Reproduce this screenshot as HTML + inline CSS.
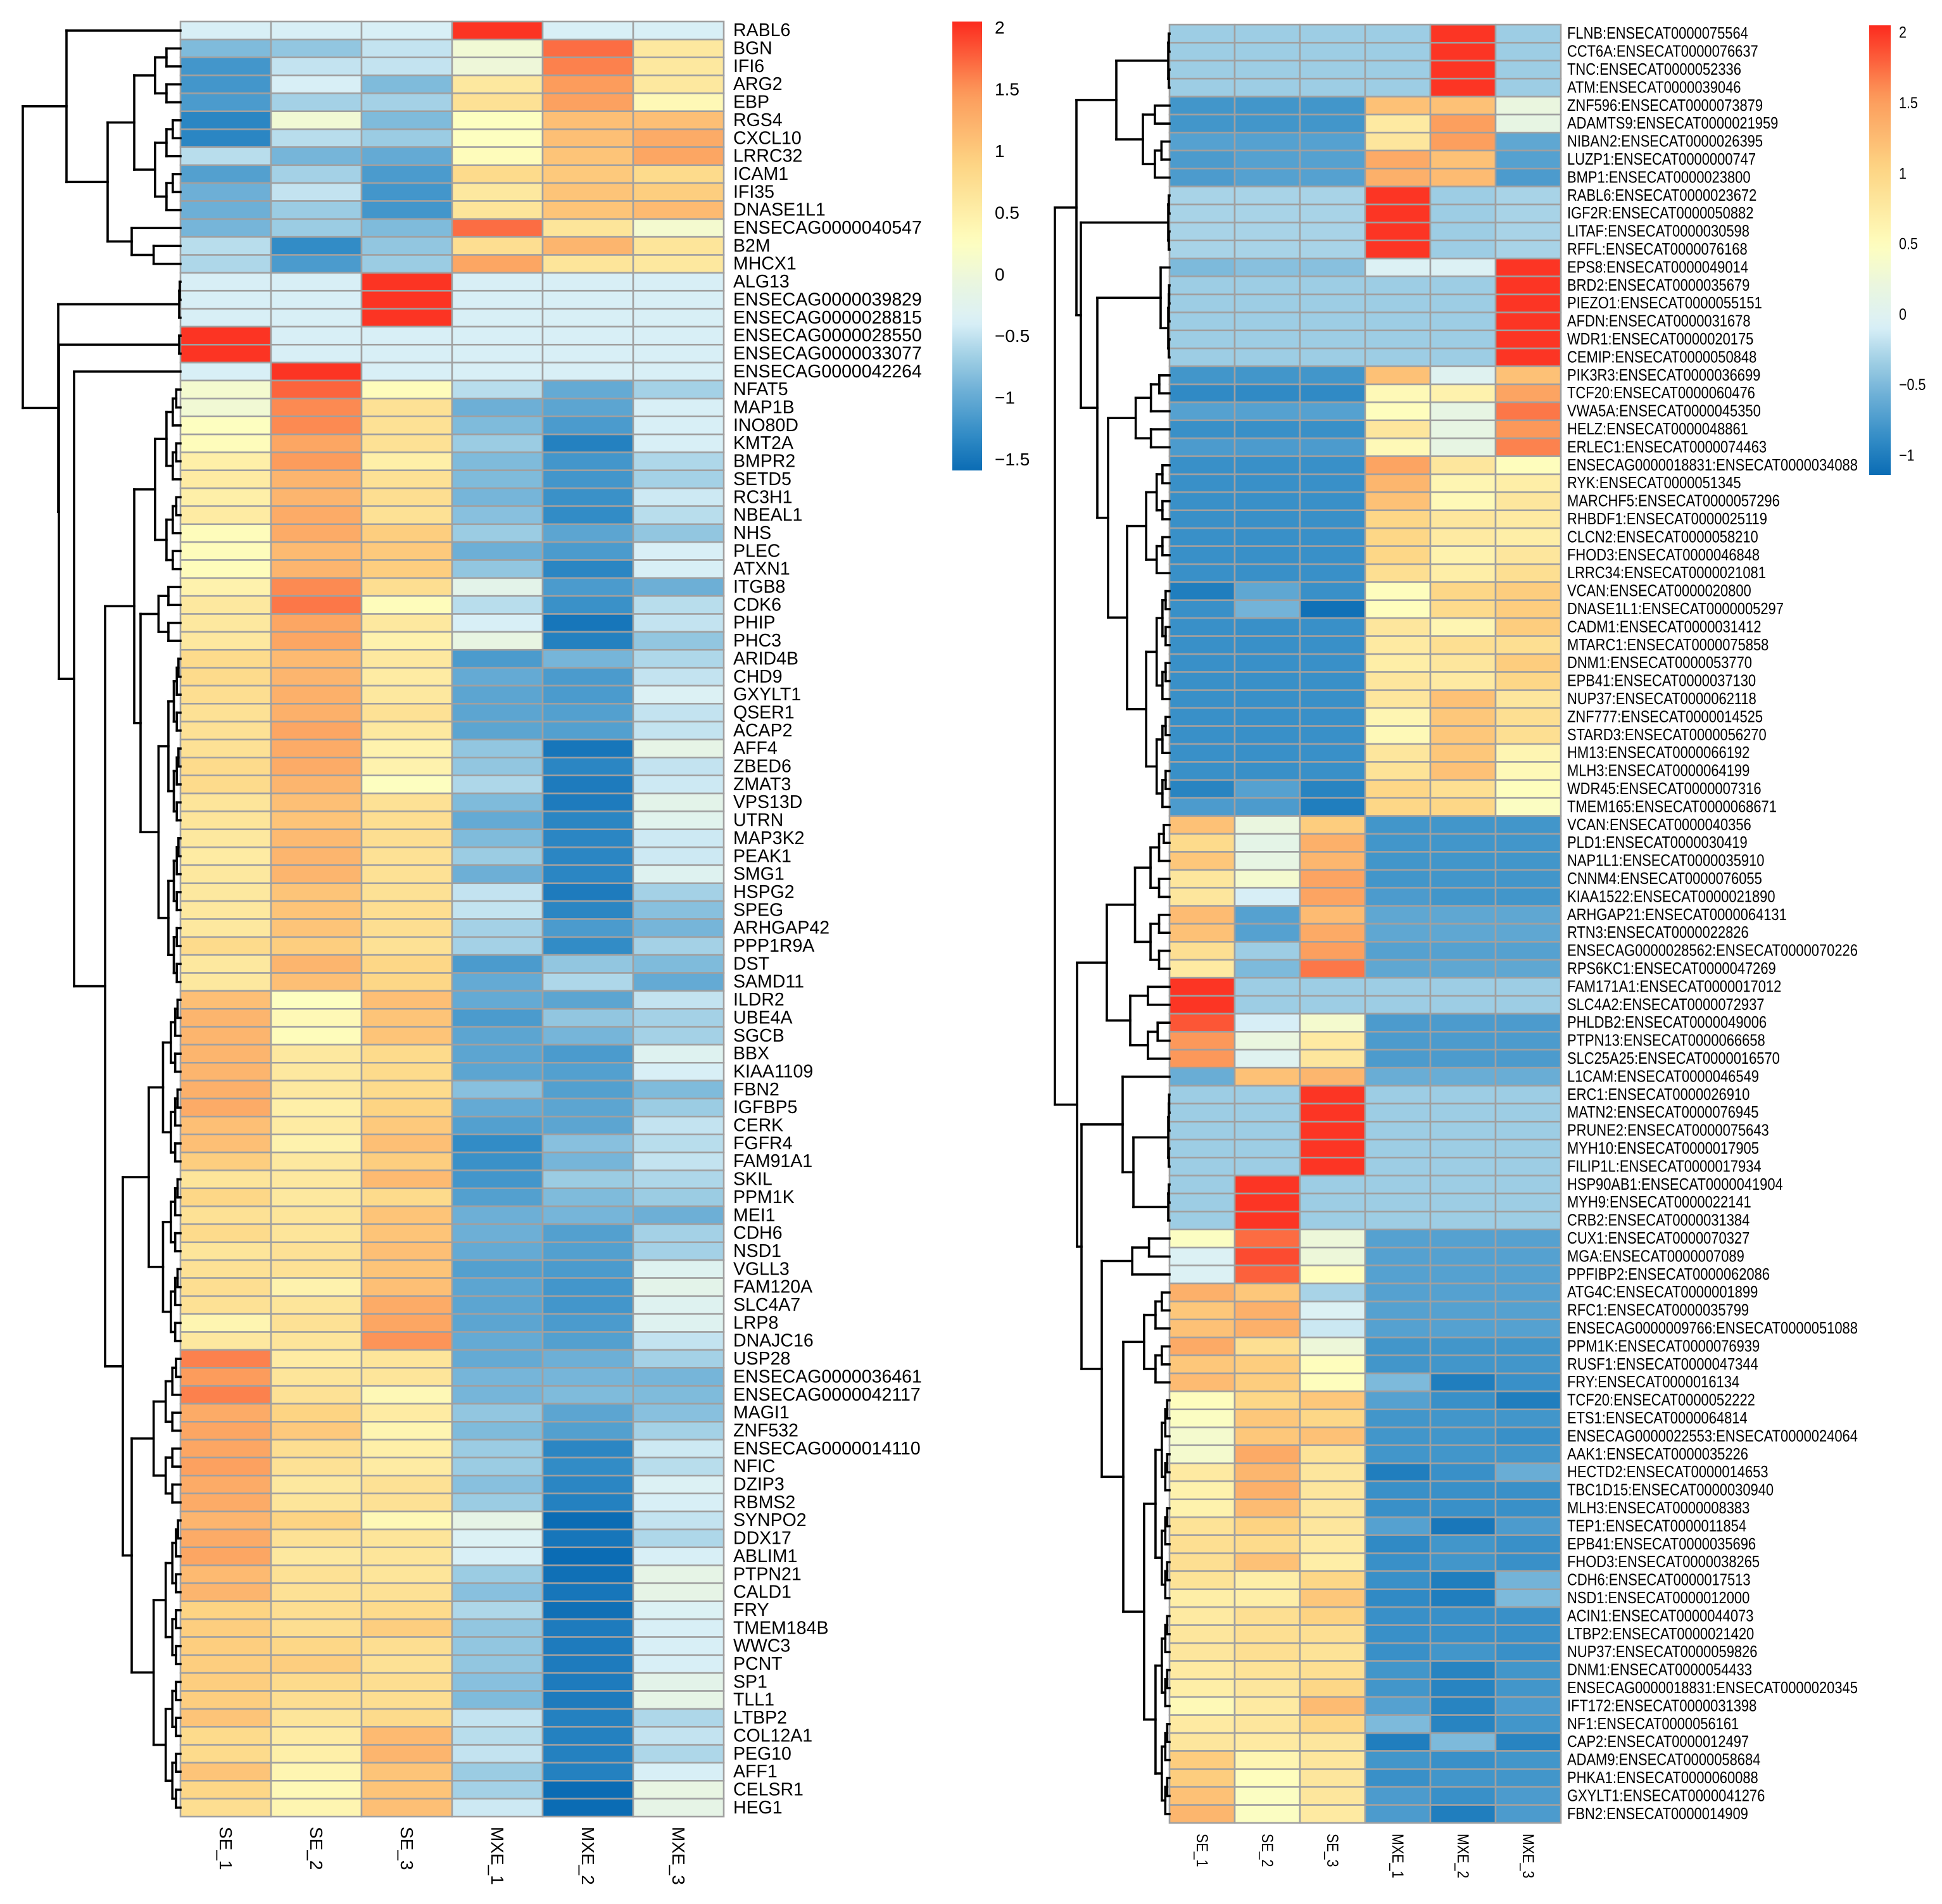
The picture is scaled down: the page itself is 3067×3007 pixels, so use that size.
<!DOCTYPE html>
<html><head><meta charset="utf-8"><style>
html,body{margin:0;padding:0;background:#fff;}
svg{display:block;}
text{font-family:"Liberation Sans",Arial,sans-serif;fill:#000;}
</style></head><body>
<svg id="chart" width="3067" height="3007" viewBox="0 0 3067 3007" xmlns="http://www.w3.org/2000/svg"></svg>
<script>
const colLabels = ["SE_1","SE_2","SE_3","MXE_1","MXE_2","MXE_3"];
const leftTicks = [2,1.5,1,0.5,0,-0.5,-1,-1.5];
const rightTicks = [2,1.5,1,0.5,0,-0.5,-1];
const leftLabels = ["RABL6","BGN","IFI6","ARG2","EBP","RGS4","CXCL10","LRRC32","ICAM1","IFI35","DNASE1L1","ENSECAG0000040547","B2M","MHCX1","ALG13","ENSECAG0000039829","ENSECAG0000028815","ENSECAG0000028550","ENSECAG0000033077","ENSECAG0000042264","NFAT5","MAP1B","INO80D","KMT2A","BMPR2","SETD5","RC3H1","NBEAL1","NHS","PLEC","ATXN1","ITGB8","CDK6","PHIP","PHC3","ARID4B","CHD9","GXYLT1","QSER1","ACAP2","AFF4","ZBED6","ZMAT3","VPS13D","UTRN","MAP3K2","PEAK1","SMG1","HSPG2","SPEG","ARHGAP42","PPP1R9A","DST","SAMD11","ILDR2","UBE4A","SGCB","BBX","KIAA1109","FBN2","IGFBP5","CERK","FGFR4","FAM91A1","SKIL","PPM1K","MEI1","CDH6","NSD1","VGLL3","FAM120A","SLC4A7","LRP8","DNAJC16","USP28","ENSECAG0000036461","ENSECAG0000042117","MAGI1","ZNF532","ENSECAG0000014110","NFIC","DZIP3","RBMS2","SYNPO2","DDX17","ABLIM1","PTPN21","CALD1","FRY","TMEM184B","WWC3","PCNT","SP1","TLL1","LTBP2","COL12A1","PEG10","AFF1","CELSR1","HEG1"];
const leftValues = [
[-0.4,-0.4,-0.4,2,-0.4,-0.4],[-0.85,-0.75,-0.5,0.05,1.7,0.6],[-1.2,-0.5,-0.5,0,1.6,0.6],[-1.2,-0.4,-0.85,0.6,1.45,0.6],[-1.15,-0.65,-0.65,0.7,1.4,0.35],
[-1.35,0.05,-0.85,0.25,1.1,1.1],[-1.35,-0.55,-0.7,0.25,1.1,1.3],[-0.55,-0.9,-1,0.3,1.05,1.35],[-1.1,-0.65,-1.15,0.8,1,0.8],[-0.95,-0.5,-1.2,0.6,1.05,0.95],
[-0.95,-0.7,-1.2,0.65,1.05,1.15],[-0.9,-0.7,-0.85,1.7,0.65,0.1],[-0.55,-1.3,-0.75,0.75,1.2,0.65],[-0.6,-1.15,-0.7,1.35,0.65,0.6],[-0.4,-0.4,2,-0.4,-0.4,-0.4],
[-0.4,-0.4,2,-0.4,-0.4,-0.4],[-0.4,-0.4,2,-0.4,-0.4,-0.4],[2,-0.4,-0.4,-0.4,-0.4,-0.4],[2,-0.4,-0.4,-0.4,-0.4,-0.4],[-0.4,2,-0.4,-0.4,-0.4,-0.4],
[0.1,1.75,0.3,-0.55,-1,-0.65],[0.05,1.55,0.7,-0.95,-1.05,-0.4],[0.25,1.55,0.7,-0.85,-1.15,-0.4],[0.3,1.35,0.7,-0.7,-1.4,-0.4],[0.5,1.45,0.5,-0.85,-1.2,-0.6],
[0.55,1.2,0.7,-0.85,-1.2,-0.65],[0.5,1.2,0.75,-0.9,-1.25,-0.45],[0.55,1.3,0.7,-0.8,-1.3,-0.55],[0.3,1.3,0.95,-0.7,-1.05,-0.75],[0.3,1.15,1,-0.95,-1.15,-0.4],
[0.3,1.2,0.95,-0.75,-1.35,-0.4],[0.45,1.55,0.75,-0.2,-1.15,-0.95],[0.6,1.65,0.3,-0.55,-1.25,-0.55],[0.6,1.35,0.6,-0.4,-1.5,-0.5],[0.6,1.35,0.45,-0.1,-1.4,-0.75],
[0.8,1.15,0.6,-1.15,-0.9,-0.6],[0.8,1.2,0.55,-1,-1.15,-0.5],[0.75,1.25,0.6,-1.05,-1.15,-0.35],[0.7,1.25,0.7,-1.05,-1.1,-0.5],[0.7,1.35,0.6,-1.05,-1.1,-0.5],
[0.7,1.3,0.45,-0.75,-1.5,-0.15],[0.8,1.3,0.45,-0.75,-1.35,-0.5],[0.8,1.2,0.25,-0.6,-1.45,-0.45],[0.65,1.1,0.7,-0.85,-1.45,-0.2],[0.65,1.05,0.75,-1,-1.35,-0.25],
[0.6,1.15,0.75,-0.85,-1.35,-0.45],[0.55,1.2,0.7,-0.7,-1.35,-0.45],[0.6,1.2,0.7,-0.95,-1.35,-0.3],[0.6,1.05,0.7,-0.5,-1.45,-0.65],[0.6,1.05,0.75,-0.5,-1.35,-0.8],
[0.6,1.05,0.75,-0.65,-1.15,-0.9],[0.8,0.95,0.7,-0.65,-1.3,-0.65],[0.6,1.2,0.85,-1.15,-0.75,-0.85],[0.6,1.1,0.85,-1,-0.6,-1],[1.1,0.25,1.1,-1,-1.05,-0.5],
[1.2,0.35,1.05,-1.15,-0.75,-0.65],[1.2,0.3,1.05,-1.05,-0.9,-0.65],[1.2,0.6,0.8,-1.05,-1.15,-0.3],[1.2,0.6,0.8,-1.05,-1.1,-0.4],[1.25,0.6,0.8,-0.8,-1.1,-0.85],
[1.3,0.5,0.9,-1,-1.05,-0.7],[1.1,0.55,1,-1.1,-1.05,-0.5],[1.1,0.45,1.1,-1.3,-0.8,-0.55],[0.95,0.6,0.95,-1.25,-0.9,-0.5],[0.65,0.6,1.15,-1.2,-0.7,-0.6],
[0.85,0.6,0.8,-1.1,-0.85,-0.7],[0.7,0.65,1.05,-0.95,-0.9,-0.95],[0.8,0.65,1.05,-0.95,-1.1,-0.65],[0.65,0.7,1.1,-1,-1.1,-0.65],[0.7,0.7,1.05,-1.1,-1.15,-0.3],
[0.75,0.45,1.1,-1.05,-1.2,-0.2],[0.7,0.65,1.3,-1.05,-1.2,-0.3],[0.4,0.7,1.35,-1.05,-1.15,-0.3],[0.6,0.65,1.5,-1,-1.1,-0.5],[1.6,0.55,0.65,-1,-0.95,-0.65],
[1.45,0.65,0.65,-0.9,-0.9,-0.9],[1.6,0.7,0.35,-0.9,-0.85,-0.85],[1.3,0.9,0.55,-0.75,-1.05,-0.8],[1.35,1,0.4,-0.85,-1.1,-0.65],[1.35,0.75,0.5,-0.7,-1.35,-0.45],
[1.4,0.7,0.55,-0.7,-1.3,-0.55],[1.3,0.6,0.7,-0.8,-1.35,-0.35],[1.3,0.65,0.7,-0.7,-1.4,-0.4],[1.2,0.9,0.35,-0.15,-1.65,-0.5],[1.3,0.7,0.65,-0.35,-1.5,-0.6],
[1.35,0.6,0.65,-0.4,-1.65,-0.4],[1.15,0.7,0.65,-0.7,-1.55,-0.15],[1.2,0.7,0.7,-0.8,-1.5,-0.15],[0.9,0.75,0.8,-0.6,-1.55,-0.35],[0.95,0.75,0.95,-0.75,-1.45,-0.4],
[0.95,0.85,0.75,-0.75,-1.45,-0.4],[0.95,0.95,0.7,-0.75,-1.45,-0.4],[0.95,0.8,0.75,-0.8,-1.45,-0.2],[0.95,0.75,0.75,-0.85,-1.45,-0.15],[1.05,0.65,0.8,-0.5,-1.4,-0.6],
[0.8,0.55,1.15,-0.55,-1.4,-0.5],[0.8,0.5,1.2,-0.5,-1.4,-0.6],[1.05,0.4,1.05,-0.7,-1.4,-0.4],[0.85,0.35,1.05,-0.65,-1.6,-0.1],[0.75,0.4,1.1,-0.45,-1.6,-0.15]];
const rightLabels = ["FLNB:ENSECAT0000075564","CCT6A:ENSECAT0000076637","TNC:ENSECAT0000052336","ATM:ENSECAT0000039046","ZNF596:ENSECAT0000073879","ADAMTS9:ENSECAT0000021959","NIBAN2:ENSECAT0000026395","LUZP1:ENSECAT0000000747","BMP1:ENSECAT0000023800","RABL6:ENSECAT0000023672","IGF2R:ENSECAT0000050882","LITAF:ENSECAT0000030598","RFFL:ENSECAT0000076168","EPS8:ENSECAT0000049014","BRD2:ENSECAT0000035679","PIEZO1:ENSECAT0000055151","AFDN:ENSECAT0000031678","WDR1:ENSECAT0000020175","CEMIP:ENSECAT0000050848","PIK3R3:ENSECAT0000036699","TCF20:ENSECAT0000060476","VWA5A:ENSECAT0000045350","HELZ:ENSECAT0000048861","ERLEC1:ENSECAT0000074463","ENSECAG0000018831:ENSECAT0000034088","RYK:ENSECAT0000051345","MARCHF5:ENSECAT0000057296","RHBDF1:ENSECAT0000025119","CLCN2:ENSECAT0000058210","FHOD3:ENSECAT0000046848","LRRC34:ENSECAT0000021081","VCAN:ENSECAT0000020800","DNASE1L1:ENSECAT0000005297","CADM1:ENSECAT0000031412","MTARC1:ENSECAT0000075858","DNM1:ENSECAT0000053770","EPB41:ENSECAT0000037130","NUP37:ENSECAT0000062118","ZNF777:ENSECAT0000014525","STARD3:ENSECAT0000056270","HM13:ENSECAT0000066192","MLH3:ENSECAT0000064199","WDR45:ENSECAT0000007316","TMEM165:ENSECAT0000068671","VCAN:ENSECAT0000040356","PLD1:ENSECAT0000030419","NAP1L1:ENSECAT0000035910","CNNM4:ENSECAT0000076055","KIAA1522:ENSECAT0000021890","ARHGAP21:ENSECAT0000064131","RTN3:ENSECAT0000022826","ENSECAG0000028562:ENSECAT0000070226","RPS6KC1:ENSECAT0000047269","FAM171A1:ENSECAT0000017012","SLC4A2:ENSECAT0000072937","PHLDB2:ENSECAT0000049006","PTPN13:ENSECAT0000066658","SLC25A25:ENSECAT0000016570","L1CAM:ENSECAT0000046549","ERC1:ENSECAT0000026910","MATN2:ENSECAT0000076945","PRUNE2:ENSECAT0000075643","MYH10:ENSECAT0000017905","FILIP1L:ENSECAT0000017934","HSP90AB1:ENSECAT0000041904","MYH9:ENSECAT0000022141","CRB2:ENSECAT0000031384","CUX1:ENSECAT0000070327","MGA:ENSECAT0000007089","PPFIBP2:ENSECAT0000062086","ATG4C:ENSECAT0000001899","RFC1:ENSECAT0000035799","ENSECAG0000009766:ENSECAT0000051088","PPM1K:ENSECAT0000076939","RUSF1:ENSECAT0000047344","FRY:ENSECAT0000016134","TCF20:ENSECAT0000052222","ETS1:ENSECAT0000064814","ENSECAG0000022553:ENSECAT0000024064","AAK1:ENSECAT0000035226","HECTD2:ENSECAT0000014653","TBC1D15:ENSECAT0000030940","MLH3:ENSECAT0000008383","TEP1:ENSECAT0000011854","EPB41:ENSECAT0000035696","FHOD3:ENSECAT0000038265","CDH6:ENSECAT0000017513","NSD1:ENSECAT0000012000","ACIN1:ENSECAT0000044073","LTBP2:ENSECAT0000021420","NUP37:ENSECAT0000059826","DNM1:ENSECAT0000054433","ENSECAG0000018831:ENSECAT0000020345","IFT172:ENSECAT0000031398","NF1:ENSECAT0000056161","CAP2:ENSECAT0000012497","ADAM9:ENSECAT0000058684","PHKA1:ENSECAT0000060088","GXYLT1:ENSECAT0000041276","FBN2:ENSECAT0000014909"];
const rightValues = [
[-0.35,-0.35,-0.35,-0.35,2,-0.35],[-0.35,-0.35,-0.35,-0.35,2,-0.35],[-0.35,-0.35,-0.35,-0.35,2,-0.35],[-0.35,-0.35,-0.35,-0.35,2,-0.35],
[-0.8,-0.8,-0.8,1.2,1.2,0.2],[-0.8,-0.8,-0.8,0.75,1.5,0.15],[-0.7,-0.7,-0.7,0.8,1.5,-0.65],[-0.75,-0.7,-0.7,1.4,1.2,-0.7],[-0.75,-0.7,-0.7,1.35,1.25,-0.75],
[-0.3,-0.3,-0.3,2,-0.35,-0.3],[-0.3,-0.3,-0.3,2,-0.35,-0.3],[-0.3,-0.3,-0.3,2,-0.35,-0.3],[-0.3,-0.3,-0.3,2,-0.35,-0.3],
[-0.5,-0.45,-0.45,-0.05,-0.05,2],[-0.35,-0.35,-0.35,-0.35,-0.35,2],[-0.35,-0.35,-0.35,-0.35,-0.35,2],[-0.35,-0.35,-0.35,-0.35,-0.35,2],[-0.35,-0.35,-0.35,-0.35,-0.35,2],[-0.35,-0.35,-0.35,-0.35,-0.35,2],
[-0.8,-0.8,-0.8,1.2,0,1.2],[-0.9,-0.9,-0.9,0.55,0.65,1.45],[-0.7,-0.7,-0.7,0.5,0.15,1.7],[-0.85,-0.85,-0.85,0.8,0.15,1.55],[-0.75,-0.75,-0.75,0.55,0.15,1.65],
[-0.85,-0.85,-0.85,1.45,0.8,0.5],[-0.85,-0.85,-0.85,1.3,0.6,0.7],[-0.85,-0.85,-0.85,1.2,0.55,0.8],[-0.85,-0.85,-0.85,1,0.8,0.75],[-0.85,-0.85,-0.85,1,0.75,0.7],
[-0.85,-0.85,-0.85,1,0.65,0.8],[-0.85,-0.85,-0.85,0.9,0.7,0.9],[-1,-0.65,-0.85,0.5,1,1.1],[-0.85,-0.55,-1.1,0.5,0.95,1.1],[-0.85,-0.85,-0.85,0.8,0.6,1.1],
[-0.85,-0.85,-0.85,0.75,0.9,0.9],[-0.85,-0.85,-0.85,0.7,0.8,1.1],[-0.85,-0.85,-0.85,0.8,0.75,1],[-0.85,-0.85,-0.85,0.8,1.2,0.8],[-0.85,-0.85,-0.85,0.6,1.15,0.9],
[-0.85,-0.85,-0.85,0.55,1.15,0.9],[-0.85,-0.85,-0.85,0.8,1.15,0.6],[-0.85,-0.85,-0.85,0.85,1.2,0.55],[-0.95,-0.7,-0.95,1,0.9,0.5],[-0.75,-0.75,-1,1,1,0.45],
[1.2,0.2,1.1,-0.8,-0.8,-0.8],[0.95,0.1,1.35,-0.8,-0.8,-0.8],[1.15,0.15,1.3,-0.8,-0.8,-0.8],[0.8,0.35,1.45,-0.8,-0.8,-0.8],[0.8,-0.1,1.45,-0.75,-0.8,-0.8],
[1.25,-0.7,1.25,-0.65,-0.65,-0.65],[1.2,-0.7,1.4,-0.65,-0.65,-0.65],[0.9,-0.35,1.5,-0.7,-0.7,-0.7],[0.75,-0.5,1.7,-0.65,-0.65,-0.65],
[2,-0.35,-0.35,-0.35,-0.35,-0.35],[2,-0.35,-0.35,-0.35,-0.35,-0.35],[1.85,-0.1,0.35,-0.75,-0.75,-0.75],[1.55,0.2,0.75,-0.75,-0.75,-0.75],[1.55,0,0.8,-0.75,-0.75,-0.75],
[-0.6,1.2,1.3,-0.6,-0.6,-0.6],[-0.35,-0.35,2,-0.35,-0.35,-0.35],[-0.35,-0.35,2,-0.35,-0.35,-0.35],[-0.35,-0.35,2,-0.35,-0.35,-0.35],[-0.35,-0.35,2,-0.35,-0.35,-0.35],[-0.35,-0.35,2,-0.35,-0.35,-0.35],
[-0.35,2,-0.35,-0.35,-0.35,-0.35],[-0.35,2,-0.35,-0.35,-0.35,-0.35],[-0.35,2,-0.35,-0.35,-0.35,-0.35],
[0.45,1.75,0.25,-0.7,-0.7,-0.7],[-0.05,1.9,0.25,-0.7,-0.7,-0.7],[-0.05,1.8,0.5,-0.7,-0.7,-0.7],[1.35,1.15,-0.3,-0.7,-0.7,-0.7],[1.15,1.35,-0.05,-0.7,-0.7,-0.7],
[1.2,1.35,-0.15,-0.7,-0.7,-0.7],[1.4,0.9,0.25,-0.8,-0.8,-0.8],[1.15,1.1,0.5,-0.8,-0.8,-0.8],[1.25,1.1,0.5,-0.5,-1,-0.85],[0.5,1,1.15,-0.7,-0.85,-1],
[0.45,1.15,1,-0.8,-0.8,-0.8],[0.35,1.15,1.2,-0.8,-0.8,-0.85],[0.35,1.4,0.85,-0.8,-0.8,-0.8],[0.75,1.3,0.8,-1,-0.85,-0.6],[0.65,1.35,0.8,-0.85,-0.85,-0.85],
[0.65,1.25,0.8,-0.85,-0.85,-0.85],[0.85,1.05,0.8,-0.7,-1.05,-0.75],[0.9,0.95,0.75,-0.9,-0.8,-0.85],[0.9,1.2,0.7,-0.85,-0.8,-0.85],[0.85,0.7,1,-0.85,-1,-0.55],
[0.7,0.7,1.15,-0.9,-1,-0.5],[0.75,0.9,1.05,-0.85,-0.85,-0.85],[0.8,0.9,0.9,-0.85,-0.85,-0.85],[0.8,0.9,0.85,-0.85,-0.8,-0.85],[0.75,0.85,0.9,-0.8,-0.95,-0.8],
[0.7,0.8,1,-0.8,-0.95,-0.8],[0.55,0.75,1.25,-0.7,-0.95,-0.75],[0.75,0.8,1,-0.5,-0.95,-0.8],[0.8,0.75,0.8,-1,-0.5,-0.95],[1.1,0.6,0.8,-0.8,-0.85,-0.8],
[1.1,0.5,0.8,-0.85,-0.8,-0.8],[1.2,0.45,0.8,-0.75,-0.85,-0.75],[1.3,0.45,0.75,-0.75,-1,-0.75]];

const leftTree = {x:36,c:[
 {x:105,c:[[1,1],{x:170,c:[{x:212,c:[[2,5],[6,11]]},{x:208,c:[[12,12],[13,14]]}]}]},
 {x:92,c:[[15,17,283],{x:93,c:[[18,19,283],{x:117,c:[[20,20],{x:166,c:[
   {x:212,c:[[21,31],{x:222,c:[[32,35],[36,54]]}]},
   {x:194,c:[[55,74],{x:208,c:[[75,83],[84,100]]}]}]}]}]}]}]};
const rightTree = {x:1666,c:[
 {x:1700,c:[
   {x:1763,c:[[1,4,1845],{x:1805,c:[[5,6],[7,9]]}]},
   {x:1707,c:[[10,13,1845],{x:1733,c:[{x:1833,c:[[14,14],[15,19,1845]]},{x:1750,c:[[20,24],{x:1780,c:[[25,31],[32,44]]}]}]}]}]},
 {x:1701,c:[
   {x:1748,c:[[45,53],{x:1785,c:[[54,55],[56,58]]}]},
   {x:1708,c:[{x:1773,c:[[59,59],{x:1790,c:[[60,64,1845],[65,67,1845]]}]},{x:1740,c:[[68,70],{x:1774,c:[[71,76],[77,100]]}]}]}]}]};

const NS="http://www.w3.org/2000/svg";
const svg=document.getElementById('chart');
const stops=[[0,[11,108,180]],[0.08,[50,140,198]],[0.17,[105,173,213]],[0.26,[165,210,230]],[0.33,[218,240,247]],[0.42,[234,246,223]],[0.51,[254,254,190]],[0.68,[253,213,132]],[0.84,[252,154,91]],[1,[252,42,30]]];
function colorAt(t){t=Math.max(0,Math.min(1,t));
 for(let i=1;i<stops.length;i++){if(t<=stops[i][0]){const a=stops[i-1],b=stops[i];const f=(t-a[0])/(b[0]-a[0]);
  const c=a[1].map((v,k)=>Math.round(v+(b[1][k]-v)*f));return `rgb(${c[0]},${c[1]},${c[2]})`;}}
 return 'rgb(252,42,30)';}
function el(tag,attrs,parent){const e=document.createElementNS(NS,tag);for(const k in attrs)e.setAttribute(k,attrs[k]);(parent||svg).appendChild(e);return e;}

function panel(cfg){
 const g=el('g',{});
 
 
 const n=cfg.values.length, rh=(cfg.y1-cfg.y0)/n, cw=(cfg.x1-cfg.x0)/6;
 const yScale=i=>cfg.y0+i*rh;
 const xScale=j=>cfg.x0+j*cw;
 const cScale=v=>colorAt((v-cfg.vmin)/(cfg.vmax-cfg.vmin));
 cfg.values.forEach((row,i)=>{row.forEach((v,j)=>{
   const r=el('rect',{x:xScale(j),y:yScale(i),width:cw,height:rh,fill:cScale(v),stroke:'#a0a0a0','stroke-width':2.6},g);
   
   
 });
 const t=el('text',{x:0,y:0,'font-size':cfg.fs,'dominant-baseline':'central',transform:`translate(${cfg.lx},${yScale(i)+rh/2}) scale(${cfg.sx},1)`},g);
 t.textContent=cfg.labels[i];
 
 
 });
 colLabels.forEach((c,j)=>{
  const t=el('text',{x:0,y:0,'font-size':cfg.cfs,'dominant-baseline':'central',transform:`translate(${xScale(j)+cw/2},${cfg.cy}) rotate(90) scale(${cfg.sx},1)`},g);
  t.textContent=c;
  
  
 });
 const dg=el('g',{stroke:'#000','stroke-width':3.6,fill:'none','stroke-linecap':'square'},g);
 
 
 const LX=cfg.x0;
 function line(x1,y1,x2,y2){el('line',{x1,y1,x2,y2},dg);}
 function build(a,b,P,X){
  if(a===b) return {x:LX,y:yScale(a-1)+rh/2};
  const x=X!==undefined?X:P+(LX-P)*0.45;
  const m=Math.floor((a+b)/2);
  const c1=build(a,m,x),c2=build(m+1,b,x);
  return join(x,[c1,c2]);
 }
 function join(x,cs){cs.forEach(c=>line(x,c.y,c.x,c.y));line(x,cs[0].y,x,cs[cs.length-1].y);return {x,y:(cs[0].y+cs[cs.length-1].y)/2};}
 function node(nd,P){
  if(Array.isArray(nd)) return build(nd[0],nd[1],P,nd[2]);
  const cs=nd.c.map(c=>node(c,nd.x));
  return join(nd.x,cs);
 }
 node(cfg.tree,cfg.tree.x);
 const lg=el('g',{},g);
 
 
 const gid='grad'+cfg.name;
 const defs=el('defs',{},lg);
 const gr=el('linearGradient',{id:gid,x1:0,y1:1,x2:0,y2:0},defs);
 for(let k=0;k<=40;k++){el('stop',{offset:k/40,'stop-color':colorAt(k/40)},gr);}
 el('rect',{x:cfg.bx,y:cfg.by0,width:cfg.bw,height:cfg.by1-cfg.by0,fill:`url(#${gid})`},lg);
 const ly=v=>cfg.by1-(v-cfg.vmin)/(cfg.vmax-cfg.vmin)*(cfg.by1-cfg.by0);
 cfg.ticks.forEach(v=>{
  const t=el('text',{x:0,y:0,'font-size':cfg.tfs,'dominant-baseline':'central',transform:`translate(${cfg.tx},${ly(v)}) scale(${cfg.sx},1)`},lg);
  t.textContent=(v<0?'\u2212'+(-v):String(v));
  
  
 });
}
panel({name:'left-heatmap',values:leftValues,labels:leftLabels,tree:leftTree,x0:285,x1:1143,y0:34,y1:2869,vmin:-1.59,vmax:2.05,lx:1158,fs:28.5,sx:1,cfs:28,cy:2885,bx:1504,bw:47,by0:34,by1:743,tx:1571,tfs:28,ticks:leftTicks});
panel({name:'right-heatmap',values:rightValues,labels:rightLabels,tree:rightTree,x0:1847,x1:2465,y0:39,y1:2879,vmin:-1.14,vmax:2.05,lx:2475,fs:25.5,sx:0.86,cfs:25,cy:2896,bx:2952,bw:34,by0:40,by1:750,tx:2999,tfs:25,ticks:rightTicks});
</script>
</body></html>
